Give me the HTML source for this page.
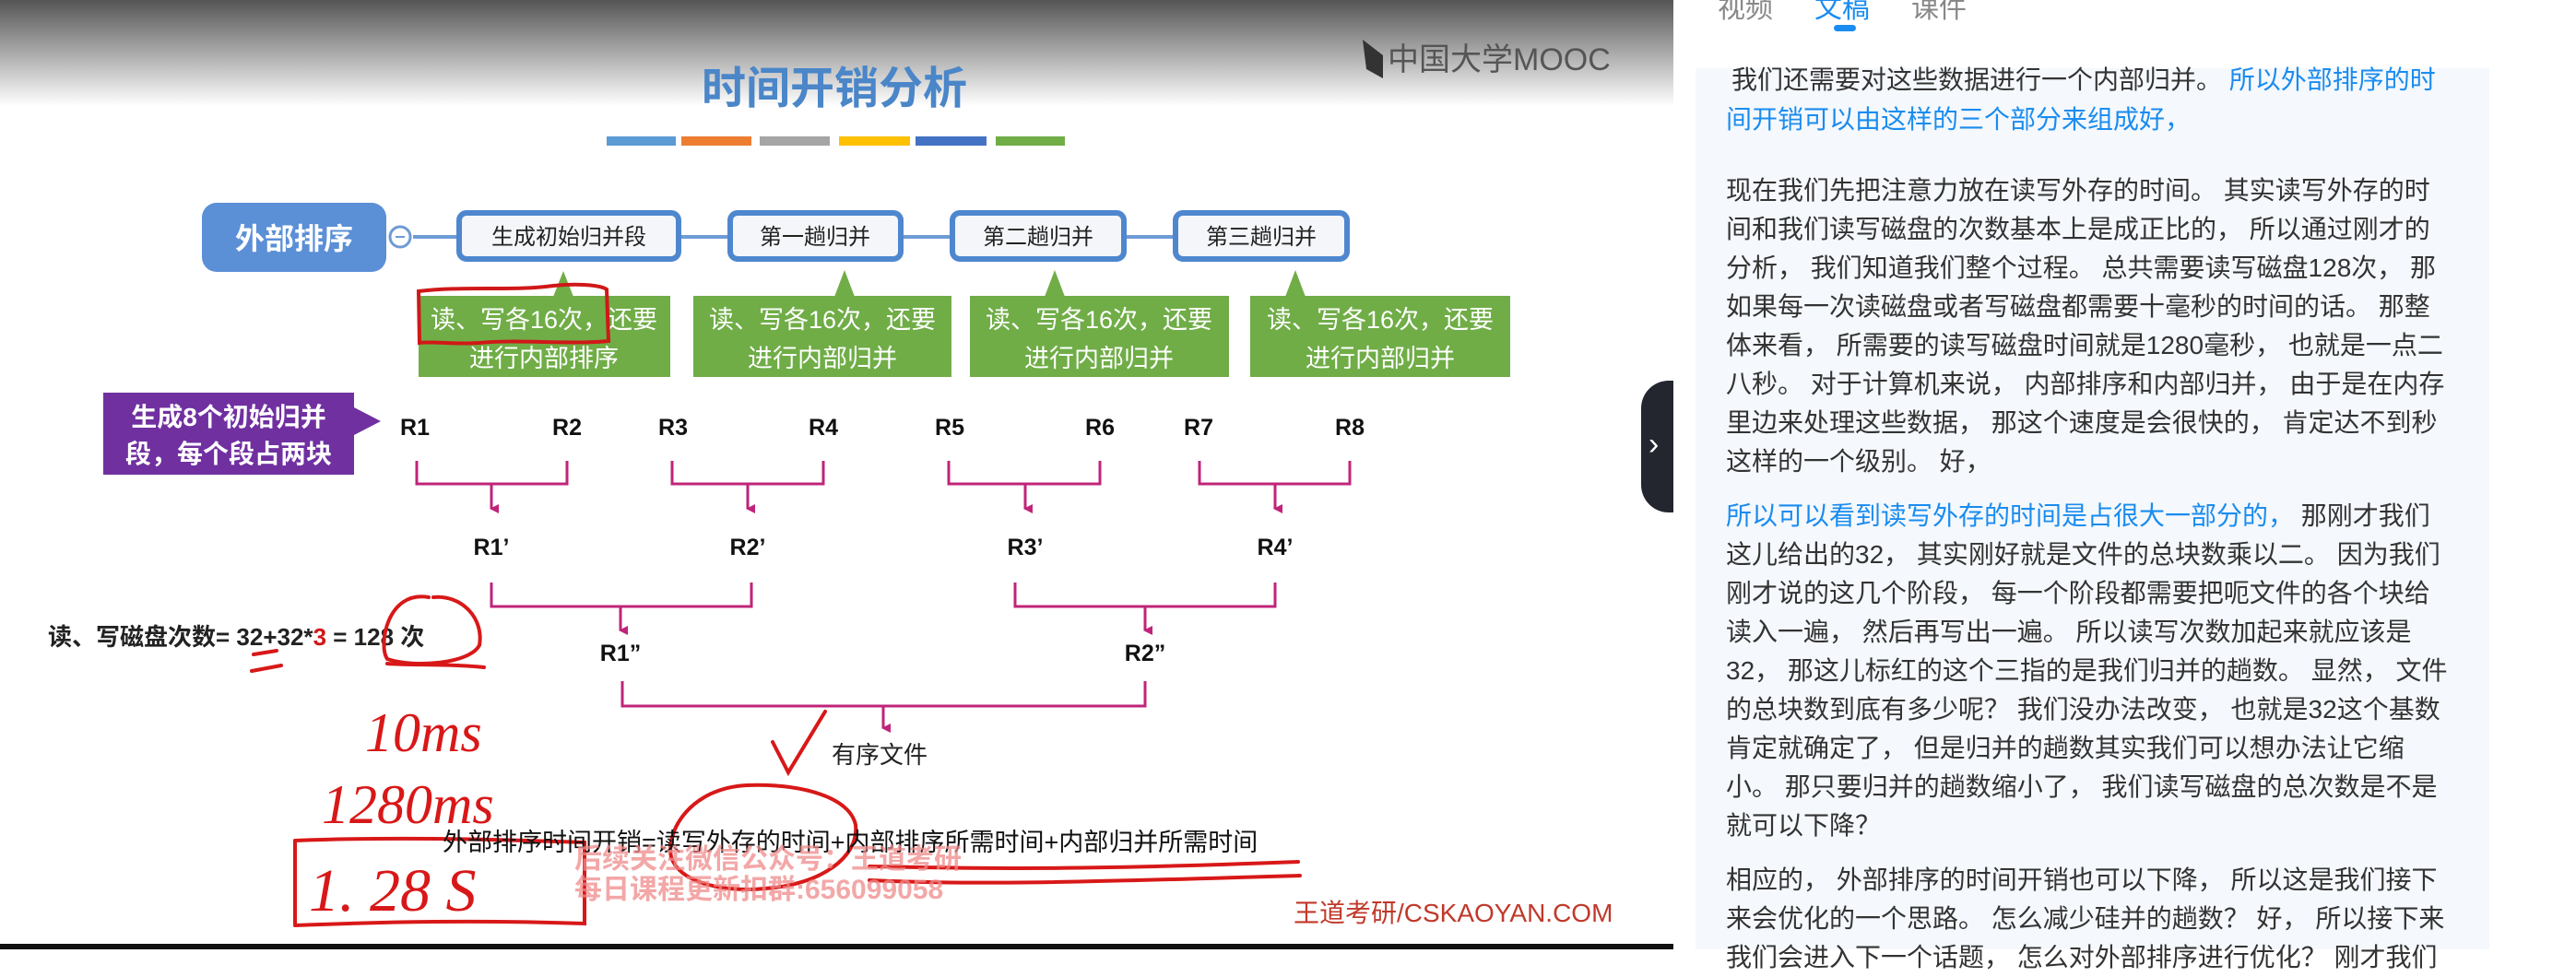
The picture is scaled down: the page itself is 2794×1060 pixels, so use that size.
<!DOCTYPE html>
<html><head><meta charset="utf-8">
<style>
html,body{margin:0;padding:0;}
body{width:2794px;height:1030px;position:relative;overflow:hidden;background:#fff;font-family:"Liberation Sans","Noto Sans CJK SC",sans-serif;}
#slide{position:absolute;left:0;top:0;width:1815px;height:1030px;}
#panel{position:absolute;left:1839px;top:74px;width:861px;height:956px;background:#f5f8fc;}
.ln{position:absolute;left:1872px;height:42px;line-height:42px;font-size:28px;color:#333;white-space:nowrap;font-family:"Liberation Sans","Noto Sans CJK SC",sans-serif;}
.b{color:#1a8cf0;}
.tab{position:absolute;top:-16px;font-size:30px;color:#888;font-family:"Liberation Sans","Noto Sans CJK SC",sans-serif;}
</style></head><body>
<svg id="slide" width="1815" height="1030" viewBox="0 0 1815 1030" xmlns="http://www.w3.org/2000/svg" font-family="Liberation Sans, Noto Sans CJK SC, sans-serif">
<defs>
<linearGradient id="g" x1="0" y1="0" x2="0" y2="1"><stop offset="0" stop-color="#555"/><stop offset="1" stop-color="#fff"/></linearGradient>
<marker id="ar" markerWidth="10" markerHeight="10" refX="5" refY="8" orient="auto" markerUnits="userSpaceOnUse"><path d="M0,0 L10,0 L5,10 Z" fill="#c0247a"/></marker>
</defs>
<rect x="0" y="0" width="1815" height="1030" fill="#fff"/>
<rect x="0" y="0" width="1815" height="115" fill="url(#g)"/>
<rect x="0" y="1024" width="1815" height="6" fill="#111"/>
<path d="M1478,43 L1500,60 L1500,85 L1482,75 Z" fill="#333"/>
<text x="1505" y="76" font-size="34" fill="#555">中国大学MOOC</text>
<text x="905" y="112" font-size="48" font-weight="bold" fill="#4a86c8" text-anchor="middle">时间开销分析</text>
<rect x="658" y="148" width="75" height="10" fill="#5b9bd5"/>
<rect x="739" y="148" width="76" height="10" fill="#ed7d31"/>
<rect x="824" y="148" width="76" height="10" fill="#a5a5a5"/>
<rect x="910" y="148" width="77" height="10" fill="#ffc000"/>
<rect x="993" y="148" width="77" height="10" fill="#4472c4"/>
<rect x="1080" y="148" width="75" height="10" fill="#70ad47"/>
<line x1="448" y1="257" x2="1464" y2="257" stroke="#6f9bd6" stroke-width="4"/>
<rect x="219" y="220" width="200" height="75" rx="16" fill="#5b8fd6"/>
<text x="319" y="270" font-size="32" font-weight="bold" fill="#fff" text-anchor="middle">外部排序</text>
<circle cx="434" cy="257" r="11" fill="#fff" stroke="#6f9bd6" stroke-width="3"/>
<line x1="429" y1="257" x2="439" y2="257" stroke="#6f9bd6" stroke-width="2"/>
<g stroke="#4f87cf" stroke-width="6" fill="#f4f6f9">
<rect x="498" y="231" width="238" height="50" rx="8"/>
<rect x="792" y="231" width="185" height="50" rx="8"/>
<rect x="1033" y="231" width="186" height="50" rx="8"/>
<rect x="1275" y="231" width="186" height="50" rx="8"/>
</g>
<g font-size="24" fill="#222" text-anchor="middle">
<text x="617" y="265">生成初始归并段</text>
<text x="884" y="265">第一趟归并</text>
<text x="1126" y="265">第二趟归并</text>
<text x="1368" y="265">第三趟归并</text>
</g>
<g fill="#70ad47">
<rect x="454" y="321" width="273" height="88"/><path d="M600,322 L611,294 L622,322 Z"/>
<rect x="752" y="321" width="280" height="88"/><path d="M905,322 L916,293 L927,322 Z"/>
<rect x="1052" y="321" width="281" height="88"/><path d="M1133,322 L1144,293 L1155,322 Z"/>
<rect x="1356" y="321" width="282" height="88"/><path d="M1394,322 L1405,293 L1416,322 Z"/>
</g>
<g font-size="27" fill="#fff" text-anchor="middle">
<text x="590" y="356">读、写各16次，还要</text><text x="590" y="398">进行内部排序</text>
<text x="892" y="356">读、写各16次，还要</text><text x="892" y="398">进行内部归并</text>
<text x="1192" y="356">读、写各16次，还要</text><text x="1192" y="398">进行内部归并</text>
<text x="1497" y="356">读、写各16次，还要</text><text x="1497" y="398">进行内部归并</text>
</g>
<path d="M454,316 C500,310 560,316 600,310 C620,308 650,308 658,314 L660,370 C620,374 560,368 520,372 C490,374 470,370 455,372 Z" fill="none" stroke="#d01818" stroke-width="4"/>
<path d="M112,426 L384,426 L384,442 L413,457 L384,472 L384,515 L112,515 Z" fill="#7030a0"/>
<text x="248" y="462" font-size="28" font-weight="bold" fill="#fff" text-anchor="middle">生成8个初始归并</text>
<text x="248" y="502" font-size="28" font-weight="bold" fill="#fff" text-anchor="middle">段，每个段占两块</text>
<g font-size="25" font-weight="bold" fill="#111" text-anchor="middle">
<text x="450" y="472">R1</text><text x="615" y="472">R2</text><text x="730" y="472">R3</text><text x="893" y="472">R4</text>
<text x="1030" y="472">R5</text><text x="1193" y="472">R6</text><text x="1300" y="472">R7</text><text x="1464" y="472">R8</text>
<text x="533" y="602">R1’</text><text x="811" y="602">R2’</text><text x="1112" y="602">R3’</text><text x="1383" y="602">R4’</text>
<text x="673" y="717">R1”</text><text x="1242" y="717">R2”</text>
</g>
<g stroke="#c0247a" stroke-width="3" fill="none">
<path d="M452,500 V525 H615 V500"/><path d="M533,525 V552" marker-end="url(#ar)"/>
<path d="M729,500 V525 H893 V500"/><path d="M811,525 V552" marker-end="url(#ar)"/>
<path d="M1029,500 V525 H1193 V500"/><path d="M1112,525 V552" marker-end="url(#ar)"/>
<path d="M1301,500 V525 H1464 V500"/><path d="M1383,525 V552" marker-end="url(#ar)"/>
<path d="M533,632 V658 H815 V632"/><path d="M673,658 V684" marker-end="url(#ar)"/>
<path d="M1101,632 V658 H1383 V632"/><path d="M1242,658 V684" marker-end="url(#ar)"/>
<path d="M675,739 V766 H1242 V739"/><path d="M958,766 V790" marker-end="url(#ar)"/>
</g>
<text x="902" y="828" font-size="26" fill="#222">有序文件</text>
<text x="52" y="700" font-size="26" font-weight="bold" fill="#222">读、写磁盘次数= 32+32*<tspan fill="#d01818">3</tspan> = 128 次</text>
<g stroke="#d81818" stroke-width="4" fill="none" stroke-linecap="round">
<path d="M465,648 C420,640 410,700 420,715 C450,725 510,720 520,700 C525,670 500,645 470,648"/>
<path d="M420,720 C450,722 490,720 525,724"/>
<path d="M275,710 L300,706 M273,728 L305,722"/>
<path d="M838,805 L855,838 L895,772"/>
<path d="M320,912 L320,1002 M320,912 C420,908 520,910 634,914 L634,1002 C520,998 420,1000 320,1004"/>
<path d="M810,852 C750,855 722,900 728,930 C738,960 790,968 830,964 C890,960 932,930 928,895 C922,865 870,850 810,852"/>
<path d="M943,940 C1050,942 1150,945 1408,935"/>
<path d="M943,955 C1050,960 1150,958 1410,950"/>
</g>
<g fill="#d81818" font-family="Liberation Serif, serif" font-style="italic">
<text x="396" y="815" font-size="60">10ms</text>
<text x="349" y="893" font-size="60">1280ms</text>
<text x="335" y="988" font-size="66">1. 28 S</text>
</g>
<text x="480" y="923" font-size="27" fill="#111">外部排序时间开销=读写外存的时间+内部排序所需时间+内部归并所需时间</text>
<g font-size="30" font-weight="bold" fill="#f08a8a" opacity="0.75">
<text x="623" y="942">后续关注微信公众号：王道考研</text>
<text x="623" y="975">每日课程更新扣群:656099058</text>
</g>
<text x="1403" y="1000" font-size="28" fill="#c0392b">王道考研/CSKAOYAN.COM</text>
</svg>
<div style="position:absolute;left:1780px;top:413px;width:35px;height:143px;background:#23262e;border-radius:30px 0 0 30px;"></div>
<div style="position:absolute;left:1788px;top:463px;color:#fff;font-size:34px;">›</div>
<div class="tab" style="left:1863px;">视频</div>
<div class="tab" style="left:1968px;color:#1a8cf0;">文稿</div>
<div class="tab" style="left:2073px;">课件</div>
<div style="position:absolute;left:1989px;top:27px;width:24px;height:7px;border-radius:4px;background:#1a8cf0;"></div>
<div id="panel"></div>
<div class="ln" style="top:66px;left:1878px;">我们还需要对这些数据进行一个内部归并。 <span class="b">所以外部排序的时</span></div>
<div class="ln b" style="top:109px;">间开销可以由这样的三个部分来组成好，</div>
<div class="ln" style="top:186px;">现在我们先把注意力放在读写外存的时间。 其实读写外存的时</div>
<div class="ln" style="top:228px;">间和我们读写磁盘的次数基本上是成正比的， 所以通过刚才的</div>
<div class="ln" style="top:270px;">分析， 我们知道我们整个过程。 总共需要读写磁盘128次， 那</div>
<div class="ln" style="top:312px;">如果每一次读磁盘或者写磁盘都需要十毫秒的时间的话。 那整</div>
<div class="ln" style="top:354px;">体来看， 所需要的读写磁盘时间就是1280毫秒， 也就是一点二</div>
<div class="ln" style="top:396px;">八秒。 对于计算机来说， 内部排序和内部归并， 由于是在内存</div>
<div class="ln" style="top:438px;">里边来处理这些数据， 那这个速度是会很快的， 肯定达不到秒</div>
<div class="ln" style="top:480px;">这样的一个级别。 好，</div>
<div class="ln" style="top:539px;"><span class="b">所以可以看到读写外存的时间是占很大一部分的，</span> 那刚才我们</div>
<div class="ln" style="top:581px;">这儿给出的32， 其实刚好就是文件的总块数乘以二。 因为我们</div>
<div class="ln" style="top:623px;">刚才说的这几个阶段， 每一个阶段都需要把呃文件的各个块给</div>
<div class="ln" style="top:665px;">读入一遍， 然后再写出一遍。 所以读写次数加起来就应该是</div>
<div class="ln" style="top:707px;">32， 那这儿标红的这个三指的是我们归并的趟数。 显然， 文件</div>
<div class="ln" style="top:749px;">的总块数到底有多少呢？ 我们没办法改变， 也就是32这个基数</div>
<div class="ln" style="top:791px;">肯定就确定了， 但是归并的趟数其实我们可以想办法让它缩</div>
<div class="ln" style="top:833px;">小。 那只要归并的趟数缩小了， 我们读写磁盘的总次数是不是</div>
<div class="ln" style="top:875px;">就可以下降？</div>
<div class="ln" style="top:934px;">相应的， 外部排序的时间开销也可以下降， 所以这是我们接下</div>
<div class="ln" style="top:976px;">来会优化的一个思路。 怎么减少硅并的趟数？ 好， 所以接下来</div>
<div class="ln" style="top:1018px;">我们会进入下一个话题， 怎么对外部排序进行优化？ 刚才我们</div>
</body></html>
